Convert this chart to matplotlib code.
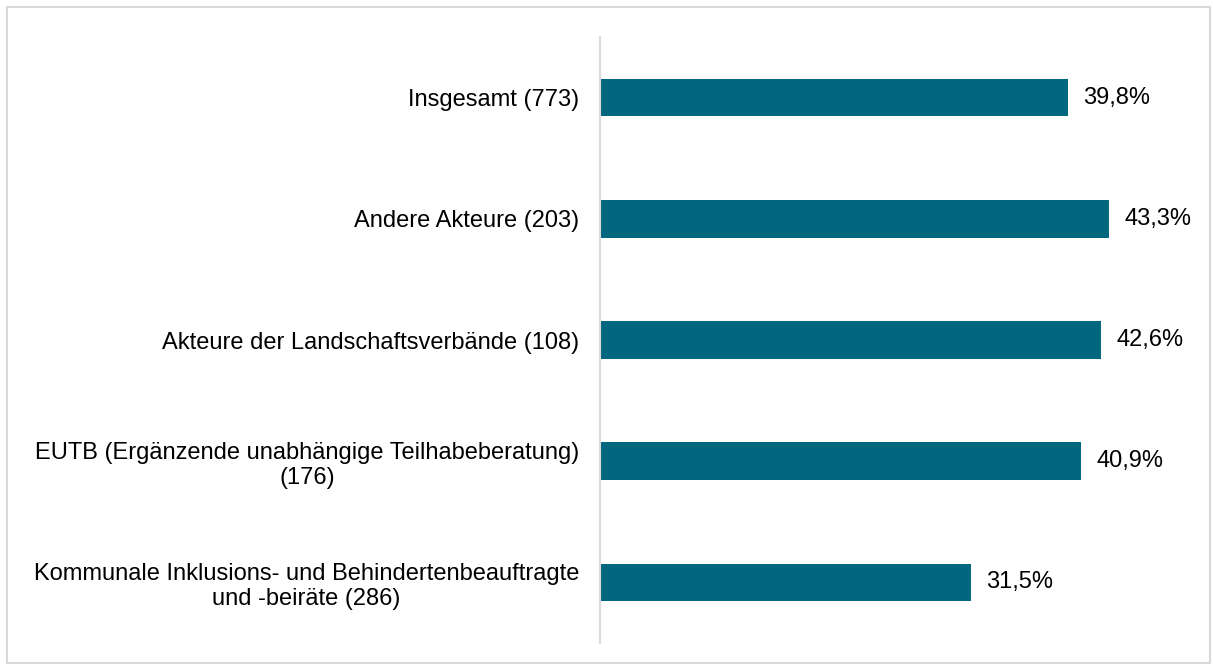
import matplotlib.pyplot as plt
from matplotlib.patches import Rectangle

plt.rcParams['font.family'] = ['Liberation Sans', 'DejaVu Sans']

# Daten (von unten nach oben)
categories = [
    "Kommunale Inklusions- und Behindertenbeauftragte\nund -beiräte (286)",
    "EUTB (Ergänzende unabhängige Teilhabeberatung)\n(176)",
    "Akteure der Landschaftsverbände (108)",
    "Andere Akteure (203)",
    "Insgesamt (773)",
]
values = [31.5, 40.9, 42.6, 43.3, 39.8]

W, H = 1213, 668
fig = plt.figure(figsize=(W / 100, H / 100), dpi=100)

# Rahmen um die Grafik
fig.patches.append(Rectangle((7 / W, 5 / H), 1203 / W, 656 / H,
                             transform=fig.transFigure, fill=False,
                             edgecolor="#d9d9d9", linewidth=1.5))

ax = fig.add_axes([600 / W, (H - 643) / H, 600 / W, 606 / H])

pos = list(range(len(categories)))
ax.barh(pos, values, height=0.31, color="#00677F")

for p, v in zip(pos, values):
    ax.text(v + 1.3, p, f"{v:.1f}%".replace(".", ","),
            va="center", ha="left", fontsize=17)

ax.set_xlim(0, 51)
ax.set_ylim(-0.5, 4.5)
ax.set_yticks(pos)
ax.set_yticklabels(categories, fontsize=17, ha="right", multialignment="center")
ax.tick_params(axis="y", length=0, pad=15)
ax.set_xticks([])

for s in ["top", "right", "bottom"]:
    ax.spines[s].set_visible(False)
ax.spines["left"].set_color("#d9d9d9")
ax.spines["left"].set_linewidth(1.5)

fig.savefig("out.png", dpi=100)
